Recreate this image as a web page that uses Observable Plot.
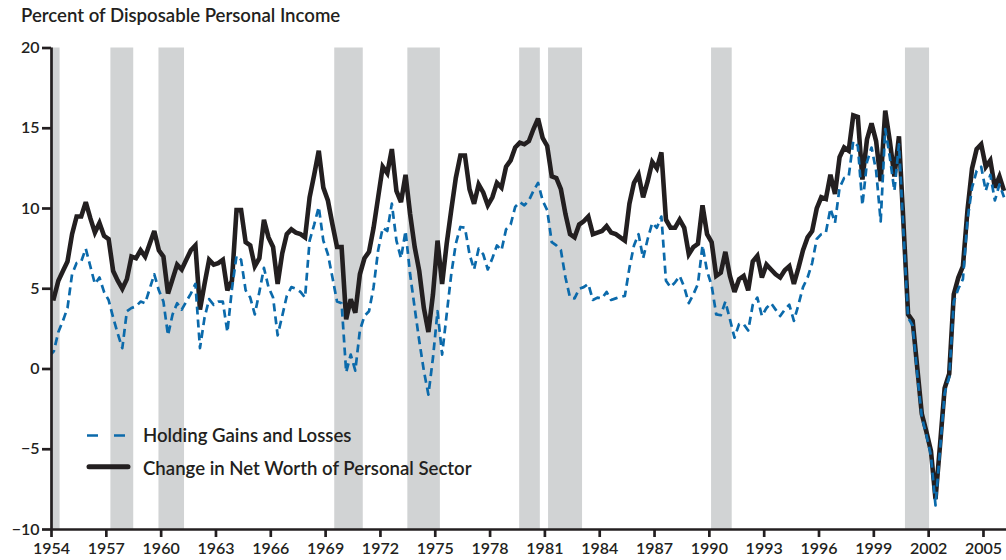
<!DOCTYPE html>
<html>
<head>
<meta charset="utf-8">
<script src="https://cdn.jsdelivr.net/npm/d3@7"></script>
<script src="https://cdn.jsdelivr.net/npm/@observablehq/plot@0.6"></script>
<style>
  body { margin: 0; background: #fff; }
  #wrap { position: relative; width: 1006px; height: 560px; font-family: Lato, "Open Sans", sans-serif; color: #231f20; }
  #title { position: absolute; left: 21px; top: 6px; font-size: 18.6px; line-height: 1; font-weight: 600; white-space: nowrap; }
  #legend { position: absolute; left: 0; top: 0; pointer-events: none; }
  #chart svg { display: block; }
</style>
</head>
<body>
<div id="wrap">
  <div id="chart"></div>
  <div id="title">Percent of Disposable Personal Income</div>
  <svg id="legend" width="1006" height="560"></svg>
</div>
<script>
// Quarterly series, first value = 1953 Q4 (plotted at mid-quarter)
const firstYear = 1953, firstQuarter = 4;

// Change in Net Worth of Personal Sector (% of disposable personal income)
const netWorth = [
  4.45,
  4.4, 5.5, 6.1, 6.7,   8.4, 9.5, 9.5, 10.4,   9.4, 8.5, 9.1, 8.3,   8.1, 6.1, 5.5, 5.0,
  5.6, 7.0, 6.9, 7.4,   7.0, 7.8, 8.6, 7.4,   7.0, 4.7, 5.6, 6.5,   6.2, 6.8, 7.4, 7.7,
  3.7, 5.3, 6.8, 6.5,   6.6, 6.8, 4.9, 5.5,   9.9, 9.9, 7.9, 7.7,   6.4, 6.9, 9.3, 8.2,
  7.6, 5.3, 7.2, 8.4,   8.7, 8.5, 8.4, 8.2,   10.7, 12.1, 13.6, 11.3,   10.5, 9.0, 7.6, 7.6,
  3.1, 4.35, 3.5, 5.9,   6.9, 7.3, 8.8, 10.7,   12.6, 12.2, 13.7, 11.1,   10.4, 12.1, 9.65, 7.6,
  6.1, 3.8, 2.3, 4.65,   8.0, 5.3, 7.8, 9.9,   11.9, 13.3, 13.3, 11.2,   10.3, 11.5, 11.0, 10.2,
  10.7, 11.6, 11.3, 12.6,   13.0, 13.8, 14.1, 14.0,   14.2, 14.95, 15.6, 14.4,   13.9, 12.0, 11.9, 11.2,
  9.65, 8.4, 8.2, 9.0,   9.2, 9.5, 8.4, 8.5,   8.6, 8.9, 8.5, 8.4,   8.2, 8.0, 10.3, 11.6,
  12.1, 10.7, 11.7, 12.9,   12.5, 13.5, 9.3, 8.8,   8.8, 9.3, 8.8, 7.15,   7.6, 7.8, 10.2, 8.4,
  7.9, 5.8, 6.0, 7.3,   5.8, 4.8, 5.6, 5.8,   4.9, 6.7, 7.05, 5.7,   6.5, 6.2, 5.9, 5.7,
  6.15, 6.4, 5.3, 6.3,   7.4, 8.2, 8.6, 10.0,   10.7, 10.6, 12.1, 10.9,   13.2, 13.8, 13.6, 15.8,
  15.7, 11.8, 14.3, 15.3,   14.2, 11.7, 16.1, 14.2,   12.0, 14.5, 9.0, 3.4,   3.0, 0.1, -2.8, -3.9,
  -5.1, -8.1, -4.7, -1.2,   -0.3, 4.65, 5.7, 6.4,   9.9, 12.5, 13.7, 14.0,   12.6, 13.0, 11.3, 12.0,
  11.1
];

// Holding Gains and Losses (% of disposable personal income)
const holdingGains = [
  0.8,
  1.1, 2.3, 3.0, 3.8,   5.9, 6.6, 6.7, 7.5,   6.4, 5.3, 5.7, 4.8,   4.3, 3.2, 2.2, 1.3,
  3.6, 3.8, 3.9, 4.2,   4.1, 5.0, 5.9, 4.9,   4.2, 2.1, 3.4, 4.1,   3.7, 4.2, 4.7, 5.3,
  1.3, 3.2, 4.35, 4.0,   4.2, 4.2, 2.3, 5.0,   7.05, 6.8, 4.9, 4.45,   3.4, 4.8, 6.3, 5.1,
  4.45, 2.1, 3.3, 4.55,   5.1, 5.0, 4.8, 4.45,   8.0, 9.0, 10.1, 8.0,   7.15, 5.7, 4.2, 4.1,
  -0.2, 0.9, -0.1, 2.4,   3.3, 3.6, 5.1, 7.4,   8.8, 8.6, 10.3, 8.0,   6.9, 8.6, 5.9, 3.8,
  1.75, -0.1, -1.6, 0.7,   3.6, 0.9, 3.4, 5.9,   7.8, 8.85, 8.8, 7.15,   6.2, 7.5, 7.15, 6.2,
  6.9, 7.7, 7.4, 8.7,   9.0, 10.1, 10.4, 10.2,   10.5, 11.1, 11.6, 10.5,   9.9, 7.9, 7.7, 7.4,
  5.7, 4.45, 4.4, 5.0,   5.1, 5.3, 4.3, 4.45,   4.4, 4.8, 4.3, 4.4,   4.5, 4.55, 6.3, 7.7,
  8.4, 6.9, 8.1, 9.1,   8.8, 9.5, 5.5, 5.1,   5.4, 5.8, 5.1, 4.1,   4.65, 5.3, 7.7, 6.1,
  5.2, 3.4, 3.35, 4.2,   3.1, 1.95, 2.8, 2.8,   2.4, 4.0, 4.45, 3.3,   3.8, 4.1, 3.7, 3.3,
  3.7, 4.0, 3.0, 4.0,   5.1, 5.7, 6.6, 8.1,   8.4, 8.5, 10.0, 9.1,   11.3, 11.9, 12.0, 14.2,
  13.9, 10.2, 12.9, 13.8,   12.35, 9.2, 14.95, 13.2,   11.1, 14.0, 8.5, 3.2,   2.7, -0.3, -3.0, -4.1,
  -5.4, -8.5, -5.0, -1.5,   -0.5, 4.2, 5.0, 5.6,   9.3, 11.3, 12.35, 12.6,   11.1, 12.1, 10.5, 11.5,
  10.7
];

// Shaded periods (recessions), in years
const recessionStart = [1954.0, 1957.25, 1959.88, 1969.5, 1973.5, 1979.62, 1981.2, 1990.12, 2000.73];
const recessionEnd   = [1954.47, 1958.5, 1961.28, 1971.06, 1975.28, 1980.75, 1983.06, 1991.25, 2002.05];

const yearTicks = [1954, 1957, 1960, 1963, 1966, 1969, 1972, 1975, 1978, 1981, 1984, 1987, 1990, 1993, 1996, 1999, 2002, 2005];
const valueTicks = [-10, -5, 0, 5, 10, 15, 20];

const seriesNames = ["Holding Gains and Losses", "Change in Net Worth of Personal Sector"];

// Build tables
const rows = netWorth.map((v, i) => {
  const q = (firstQuarter - 1) + i;              // quarters since start of firstYear
  return { date: firstYear + (q + 0.5) / 4, netWorth: v, gains: holdingGains[i] };
});
const recessions = recessionStart.map((s, i) => ({ start: s, end: recessionEnd[i] }));

const ink = "#231f20";
const blue = "#0b6aab";

const chart = Plot.plot({
  width: 1006,
  height: 560,
  marginTop: 47.5,
  marginBottom: 31,
  marginLeft: 51,
  marginRight: 0,
  style: { fontFamily: "Lato, 'Open Sans', sans-serif", fontSize: "16px", fontWeight: 600, color: ink, background: "white", overflow: "visible" },
  x: { domain: [1954, 2006.26] },
  y: { domain: [-10, 20] },
  marks: [
    Plot.rect(recessions, { x1: "start", x2: "end", fill: "#d1d3d4" }),
    Plot.line(rows, { x: "date", y: "netWorth", stroke: ink, strokeWidth: 4.6, strokeLinejoin: "miter", strokeMiterlimit: 3, strokeLinecap: "butt", clip: true }),
    Plot.line(rows, { x: "date", y: "gains", stroke: blue, strokeWidth: 2.7, strokeDasharray: "8,5", strokeLinecap: "butt", clip: true }),
    Plot.ruleX([1954], { stroke: ink, strokeWidth: 2.7 }),
    Plot.ruleY([-10], { stroke: ink, strokeWidth: 2.7 }),
    Plot.axisX({ ticks: yearTicks, tickFormat: d => String(d), tickSize: 8, tickPadding: 5, stroke: ink, strokeWidth: 2.7, label: null }),
    Plot.axisY({ ticks: valueTicks, tickSize: 9, tickPadding: 3, stroke: ink, strokeWidth: 2.7, label: null })
  ]
});
document.getElementById("chart").appendChild(chart);

// Legend (inside the plot area, lower left)
const lg = d3.select("#legend");
lg.append("line").attr("x1", 87).attr("x2", 127).attr("y1", 435.5).attr("y2", 435.5)
  .attr("stroke", blue).attr("stroke-width", 2.7).attr("stroke-dasharray", "11,16");
lg.append("line").attr("x1", 89).attr("x2", 128).attr("y1", 466.7).attr("y2", 466.7)
  .attr("stroke", ink).attr("stroke-width", 5).attr("stroke-linecap", "round");
lg.selectAll("text.lab").data(seriesNames).join("text")
  .attr("class", "lab")
  .attr("x", 143)
  .attr("y", (d, i) => i === 0 ? 441.5 : 475)
  .attr("fill", ink)
  .attr("font-family", "Lato, 'Open Sans', sans-serif")
  .attr("font-size", 18.6)
  .attr("font-weight", 600)
  .text(d => d);
</script>
</body>
</html>
